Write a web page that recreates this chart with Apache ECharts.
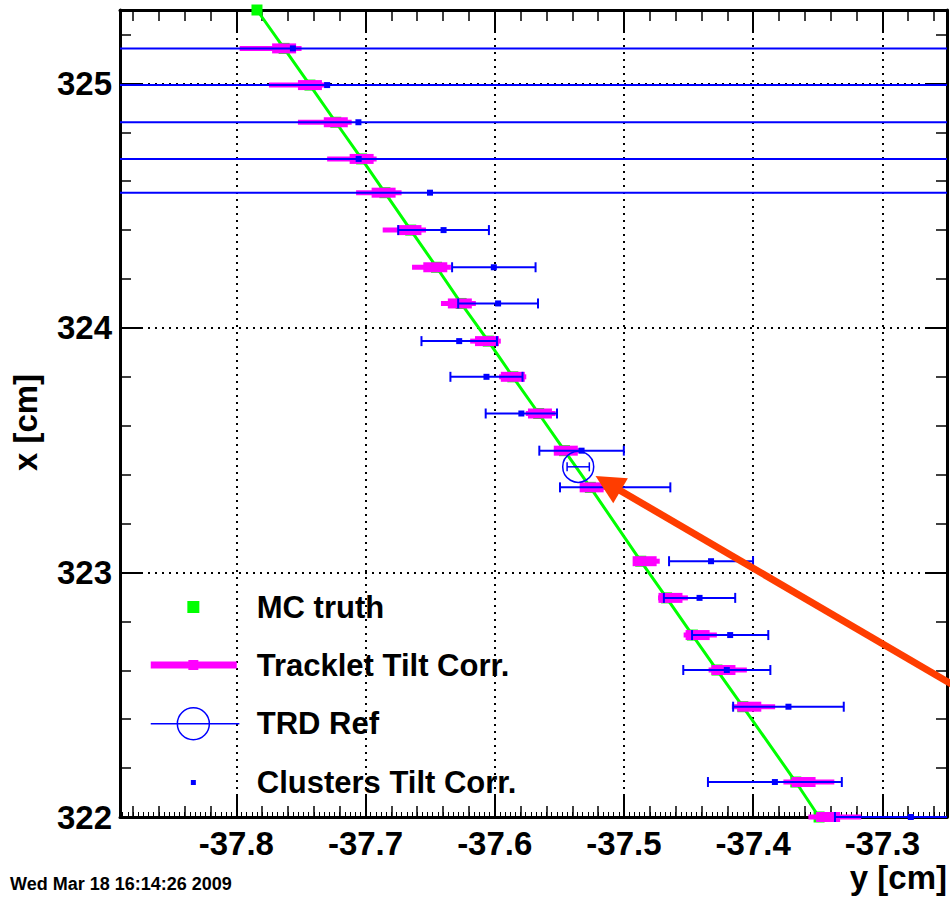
<!DOCTYPE html>
<html><head><meta charset="utf-8">
<script src="https://cdn.jsdelivr.net/npm/echarts@6/dist/echarts.min.js"></script>
<style>html,body{margin:0;padding:0;background:#fff}#c{width:950px;height:899px}</style>
</head><body><div id="c"></div><script>
// ---------- data (horizontal axis = y [cm], vertical axis = x [cm]) ----------
const layerX = [325.143, 324.993, 324.841, 324.691, 324.553, 324.400, 324.248, 324.100, 323.946, 323.800,
                323.650, 323.498, 323.348, 323.046, 322.896, 322.744, 322.601, 322.451, 322.143, 322.000];

// MC truth track points
const mcTruthY = [-37.784, -37.763, -37.743, -37.723, -37.703, -37.685, -37.665, -37.645, -37.626, -37.605, -37.586,
                  -37.566, -37.546, -37.526, -37.487, -37.467, -37.447, -37.428, -37.408, -37.367, -37.349];
const mcTruthX = [325.300, 325.143, 324.993, 324.841, 324.691, 324.553, 324.400, 324.248, 324.100, 323.946, 323.800,
                  323.650, 323.498, 323.348, 323.046, 322.896, 322.744, 322.601, 322.451, 322.143, 322.000];

// Tracklet tilt corrected: position and error-bar ends
const trkY    = [-37.763, -37.743, -37.723, -37.703, -37.686, -37.666, -37.646, -37.627, -37.606, -37.586,
                 -37.565, -37.545, -37.525, -37.484, -37.464, -37.443, -37.423, -37.403, -37.361, -37.342];
const trkLow  = [-37.7974, -37.7747, -37.7523, -37.7297, -37.7073, -37.6867, -37.6640, -37.6416, -37.6190, -37.5966,
                 -37.5760, -37.5542, -37.5336, -37.4929, -37.4736, -37.4538, -37.4345, -37.4165, -37.3766, -37.3573];
const trkHigh = [-37.7495, -37.7304, -37.7107, -37.6914, -37.6721, -37.6532, -37.6339, -37.6146, -37.5953, -37.5756,
                 -37.5529, -37.5336, -37.5143, -37.4723, -37.4505, -37.4281, -37.4049, -37.3830, -37.3372, -37.3164];

// Clusters tilt corrected: position and error
const clsY   = [-37.7562, -37.7297, -37.7055, -37.7053, -37.6501, -37.6396, -37.6007, -37.5974, -37.6275, -37.6064,
                -37.5794, -37.5328, -37.5068, -37.4326, -37.4415, -37.4178, -37.4204, -37.3727, -37.3832, -37.2780];
const clsErr = [0.9, 0.9, 0.9, 0.9, 0.9, 0.0351, 0.0323, 0.0309, 0.0292, 0.0279,
                0.0276, 0.0327, 0.0427, 0.0325, 0.0276, 0.0295, 0.0337, 0.0428, 0.0518, 0.0587];

// TRD reference point
const trdY = [-37.5354];
const trdX = [323.432];
const trdErr = [0.0086];

// annotation arrow (from, to)
const arrowFrom = [-37.200, 322.400];
const arrowTo   = [-37.522, 323.394];

// axis ticks
const xMajorTicks = [-37.8, -37.7, -37.6, -37.5, -37.4, -37.3];
const yMajorTicks = [322, 323, 324, 325];
function stepTicks(a, b, step) { const o = []; for (let i = a; i <= b; i++) o.push(+(i * step).toFixed(4)); return o; }
const xMinorTicks = stepTicks(-1894, -1863, 0.02);
const xTinyTicks  = stepTicks(-9472, -9313, 0.004);
const yMinorTicks = stepTicks(1611, 1626, 0.2);

const X_MIN = -37.89, X_MAX = -37.25, Y_MIN = 322, Y_MAX = 325.3;
// ---------- chart ----------
const FONT = 'Liberation Sans, Arial, Helvetica, sans-serif';
const chart = echarts.init(document.getElementById('c'), null, {renderer: 'svg'});

function tickAxis(kind, pos, vals, len, lineShow, width) {
  return {
    type: 'value', position: pos, gridIndex: 0,
    min: kind === 'x' ? X_MIN : Y_MIN, max: kind === 'x' ? X_MAX : Y_MAX,
    axisLine: {show: lineShow, onZero: false, lineStyle: {color: '#000', width: 3}},
    axisTick: {show: true, inside: true, length: len, customValues: vals, lineStyle: {color: '#000', width: width}},
    axisLabel: {show: false}, splitLine: {show: false}, axisPointer: {show: false}
  };
}

const gridDots = {color: '#000', width: 2, type: [2, 5]};

const xMain = tickAxis('x', 'bottom', xMajorTicks, 22, true, 2);
xMain.axisLabel = {show: true, customValues: xMajorTicks, formatter: v => v.toFixed(1), fontFamily: FONT,
  fontWeight: 'bold', fontSize: 33, color: '#000', margin: 10};
xMain.splitLine = {show: true, lineStyle: gridDots};
xMain.name = 'y [cm]';
xMain.nameLocation = 'end';
xMain.nameGap = 0;
xMain.nameTextStyle = {fontFamily: FONT, fontWeight: 'bold', fontSize: 33, color: '#000', align: 'right', verticalAlign: 'top', padding: [44, 0, 0, 0]};

const yMain = tickAxis('y', 'left', yMajorTicks, 22, true, 2);
yMain.interval = 1;
yMain.axisLabel = {show: true, customValues: yMajorTicks, formatter: v => v.toFixed(0), fontFamily: FONT,
  fontWeight: 'bold', fontSize: 33, color: '#000', margin: 8};
yMain.splitLine = {show: true, lineStyle: gridDots};
yMain.name = 'x [cm]';
yMain.nameLocation = 'middle';
yMain.nameRotate = 90;
yMain.nameGap = 78;
yMain.nameTextStyle = {fontFamily: FONT, fontWeight: 'bold', fontSize: 33, color: '#000', padding: [0, 18, 0, 0]};

function clampX(cs, v) { return Math.max(cs.x, Math.min(cs.x + cs.width, v)); }

const option = {
  animation: false,
  backgroundColor: '#fff',
  grid: {left: 120, right: 1, top: 10, bottom: 82, containLabel: false},
  xAxis: [
    xMain,
    tickAxis('x', 'bottom', xMinorTicks, 11, false, 1.5),
    tickAxis('x', 'bottom', xTinyTicks, 5, false, 1),
    tickAxis('x', 'top', xMajorTicks, 22, true, 2),
    tickAxis('x', 'top', xMinorTicks, 11, false, 1.5)
  ],
  yAxis: [
    yMain,
    tickAxis('y', 'left', yMinorTicks, 11, false, 1.5),
    tickAxis('y', 'right', yMajorTicks, 22, true, 2),
    tickAxis('y', 'right', yMinorTicks, 11, false, 1.5)
  ],
  legend: {
    orient: 'vertical', left: 150, top: 590, padding: 0, itemWidth: 101, itemHeight: 34, itemGap: 24,
    selectedMode: false,
    textStyle: {fontFamily: FONT, fontWeight: 'bold', fontSize: 31, color: '#000'},
    data: [
      {name: 'MC truth', icon: 'path://M0 0 M101 34 M36.6 11 h12 v12 h-12 Z', itemStyle: {color: '#00ff00', borderWidth: 0}},
      {name: 'Tracklet Tilt Corr.', icon: 'path://M0 0 M101 34 M0 13.5 h86 v7 h-86 Z M37.6 12 h10 v10 h-10 Z', itemStyle: {color: '#ff00ff', borderWidth: 0}},
      {name: 'TRD Ref', icon: 'path://M0 0 M101 34 M0 17 H88.6 M58.6 17 A16 16 0 1 1 26.6 17 A16 16 0 1 1 58.6 17',
        itemStyle: {color: 'rgba(0,0,0,0)', borderColor: '#0000ff', borderWidth: 1.5}},
      {name: 'Clusters Tilt Corr.', icon: 'path://M0 0 M101 34 M40.1 14.5 h5 v5 h-5 Z', itemStyle: {color: '#0000ff', borderWidth: 0}}
    ]
  },
  graphic: [
    {type: 'text', left: 10, top: 875, style: {text: 'Wed Mar 18 16:14:26 2009', font: 'bold 18px ' + FONT, fill: '#000'}}
  ],
  series: [
    {
      name: 'MC truth', type: 'line', xAxisIndex: 0, yAxisIndex: 0,
      data: mcTruthY.map((v, i) => [v, mcTruthX[i]]),
      symbol: 'rect', symbolSize: 11, showSymbol: true, showAllSymbol: true, clip: false,
      lineStyle: {color: '#00ff00', width: 3}, itemStyle: {color: '#00ff00'}, z: 2, silent: true
    },
    {
      name: 'Tracklet Tilt Corr.', type: 'custom', xAxisIndex: 0, yAxisIndex: 0, z: 3, silent: true,
      data: layerX.map((x, i) => [trkY[i], x, trkLow[i], trkHigh[i]]),
      encode: {x: [0, 2, 3], y: 1},
      renderItem: function (params, api) {
        const cs = params.coordSys;
        const y = api.value(1);
        const c = api.coord([api.value(0), y]);
        const l = api.coord([api.value(2), y]);
        const h = api.coord([api.value(3), y]);
        return {type: 'group', children: [
          {type: 'line', shape: {x1: clampX(cs, l[0]), y1: l[1], x2: clampX(cs, h[0]), y2: h[1]}, style: {stroke: '#ff00ff', lineWidth: 5}},
          {type: 'rect', shape: {x: c[0] - 12, y: c[1] - 5, width: 24, height: 10}, style: {fill: '#ff00ff'}}
        ]};
      }
    },
    {
      name: 'TRD Ref', type: 'custom', xAxisIndex: 0, yAxisIndex: 0, z: 6, silent: true,
      data: trdY.map((v, i) => [v, trdX[i], trdErr[i]]),
      encode: {x: 0, y: 1},
      renderItem: function (params, api) {
        const y = api.value(1), x = api.value(0), e = api.value(2);
        const c = api.coord([x, y]);
        const l = api.coord([x - e, y]);
        const h = api.coord([x + e, y]);
        const st = {stroke: '#0000ff', lineWidth: 1.5, fill: null};
        return {type: 'group', children: [
          {type: 'circle', shape: {cx: c[0], cy: c[1], r: 15.5}, style: {stroke: '#0000ff', lineWidth: 1.5, fill: 'none'}},
          {type: 'line', shape: {x1: l[0], y1: l[1], x2: h[0], y2: h[1]}, style: st},
          {type: 'line', shape: {x1: l[0], y1: l[1] - 4.5, x2: l[0], y2: l[1] + 4.5}, style: st},
          {type: 'line', shape: {x1: h[0], y1: h[1] - 4.5, x2: h[0], y2: h[1] + 4.5}, style: st}
        ]};
      }
    },
    {
      name: 'Clusters Tilt Corr.', type: 'custom', xAxisIndex: 0, yAxisIndex: 0, z: 5, silent: true,
      data: layerX.map((x, i) => [clsY[i], x, clsErr[i]]),
      encode: {x: 0, y: 1},
      renderItem: function (params, api) {
        const cs = params.coordSys;
        const y = api.value(1), x = api.value(0), e = api.value(2);
        const c = api.coord([x, y]);
        const l = api.coord([x - e, y]);
        const h = api.coord([x + e, y]);
        const st = {stroke: '#0000ff', lineWidth: 2};
        const ch = [
          {type: 'line', shape: {x1: clampX(cs, l[0]), y1: l[1], x2: clampX(cs, h[0]), y2: h[1]}, style: st}
        ];
        if (l[0] >= cs.x) ch.push({type: 'line', shape: {x1: l[0], y1: l[1] - 5, x2: l[0], y2: l[1] + 5}, style: st});
        if (h[0] <= cs.x + cs.width) ch.push({type: 'line', shape: {x1: h[0], y1: h[1] - 5, x2: h[0], y2: h[1] + 5}, style: st});
        if (c[0] >= cs.x && c[0] <= cs.x + cs.width) ch.push({type: 'rect', shape: {x: c[0] - 3, y: c[1] - 3, width: 6, height: 6}, style: {fill: '#0000ff'}});
        return {type: 'group', children: ch};
      }
    },
    {
      name: 'arrow', type: 'custom', xAxisIndex: 0, yAxisIndex: 0, z: 10, silent: true,
      data: [[arrowFrom[0], arrowFrom[1], arrowTo[0], arrowTo[1]]],
      encode: {x: [0, 2], y: [1, 3]},
      renderItem: function (params, api) {
        const a = api.coord([api.value(0), api.value(1)]);
        const b = api.coord([api.value(2), api.value(3)]);
        const dx = b[0] - a[0], dy = b[1] - a[1];
        const L = Math.sqrt(dx * dx + dy * dy);
        const ux = dx / L, uy = dy / L;
        const hl = 29, hw = 14.5;
        const bx = b[0] - ux * hl, by = b[1] - uy * hl;
        return {type: 'group', children: [
          {type: 'line', shape: {x1: a[0], y1: a[1], x2: bx + ux * 2, y2: by + uy * 2}, style: {stroke: '#ff3d00', lineWidth: 7}},
          {type: 'polygon', shape: {points: [[b[0], b[1]], [bx - uy * hw, by + ux * hw], [bx + uy * hw, by - ux * hw]]}, style: {fill: '#ff3d00'}}
        ]};
      }
    }
  ]
};
chart.setOption(option);
</script></body></html>
